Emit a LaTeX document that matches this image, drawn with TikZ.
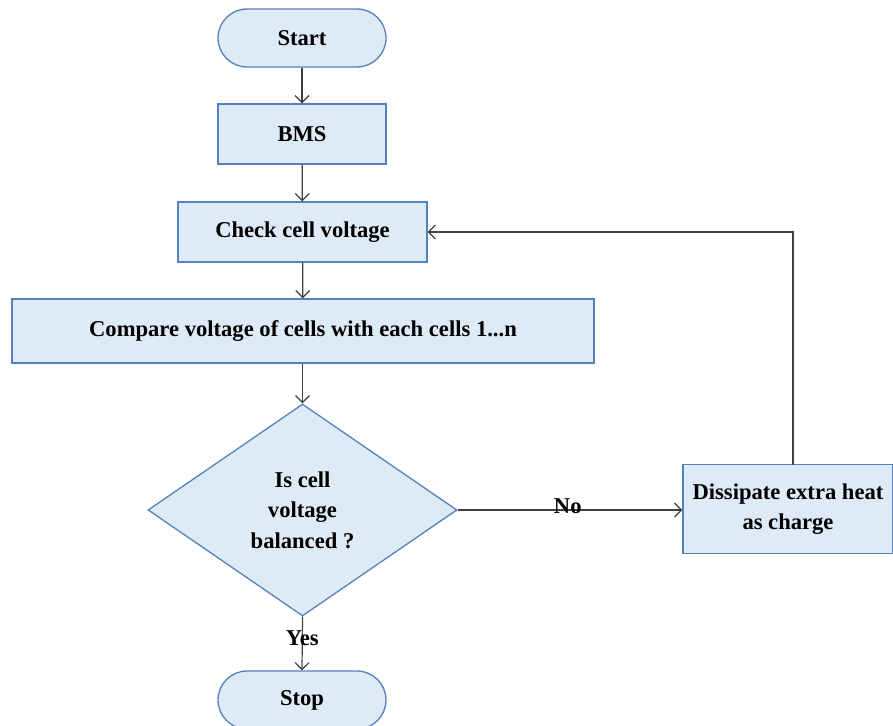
\documentclass[tikz,border=0pt]{standalone}
\usepackage{fontspec}
\setmainfont{Liberation Serif}
\usetikzlibrary{shapes.geometric,arrows.meta}
\definecolor{boxfill}{RGB}{222,234,246}
\definecolor{boxline}{RGB}{84,130,188}
\definecolor{wire}{RGB}{64,64,64}
\begin{document}
\begin{tikzpicture}[x=1pt,y=-1pt,
  every node/.style={font=\bfseries\fontsize{22.6}{30.5}\selectfont, text=black},
  base/.style={draw=boxline, line width=1.3pt, fill=boxfill, inner sep=0pt, align=center},
  terminal/.style={base, rectangle, rounded corners=29pt, minimum width=168pt, minimum height=58pt},
  process/.style={base, rectangle, minimum height=60pt},
  decision/.style={base, diamond, minimum width=309pt, minimum height=212pt},
  flow/.style={draw=wire, line width=1.2pt, -{Straight Barb[length=7pt,width=14pt,line width=1.2pt]}},
  lbl/.style={font=\bfseries\fontsize{22.6}{26}\selectfont, inner sep=1pt}
]
\useasboundingbox (0,0) rectangle (893,725);

\node[terminal] (start) at (302,38) {Start};
\node[process, minimum width=168pt] (bms) at (302,134) {BMS};
\node[process, minimum width=249pt] (check) at (302.5,232) {Check cell voltage};
\node[process, minimum width=582pt, minimum height=64pt] (compare) at (303,331) {Compare voltage of cells with each cells 1...n};
\node[decision] (dec) at (302.5,510) {Is cell\\voltage\\balanced ?};
\node[process, minimum width=210pt, minimum height=89pt] (diss) at (788,509) {Dissipate extra heat\\as charge};
\node[terminal] (stop) at (302,700) {Stop};

\draw[flow] (start) -- (bms);
\draw[flow] (bms) -- (check);
\draw[flow] (check) -- (compare);
\draw[flow] (compare.south -| dec.north) -- (dec.north);
\draw[flow] (dec.east) -- node[lbl, above, pos=0.49, yshift=-5pt] {No} (diss.west |- dec.east);
\draw[flow] (dec.south) -- node[lbl, pos=0.4] {Yes} (stop.north);
\draw[flow] (793,464.5) |- (check.east);
\end{tikzpicture}
\end{document}
